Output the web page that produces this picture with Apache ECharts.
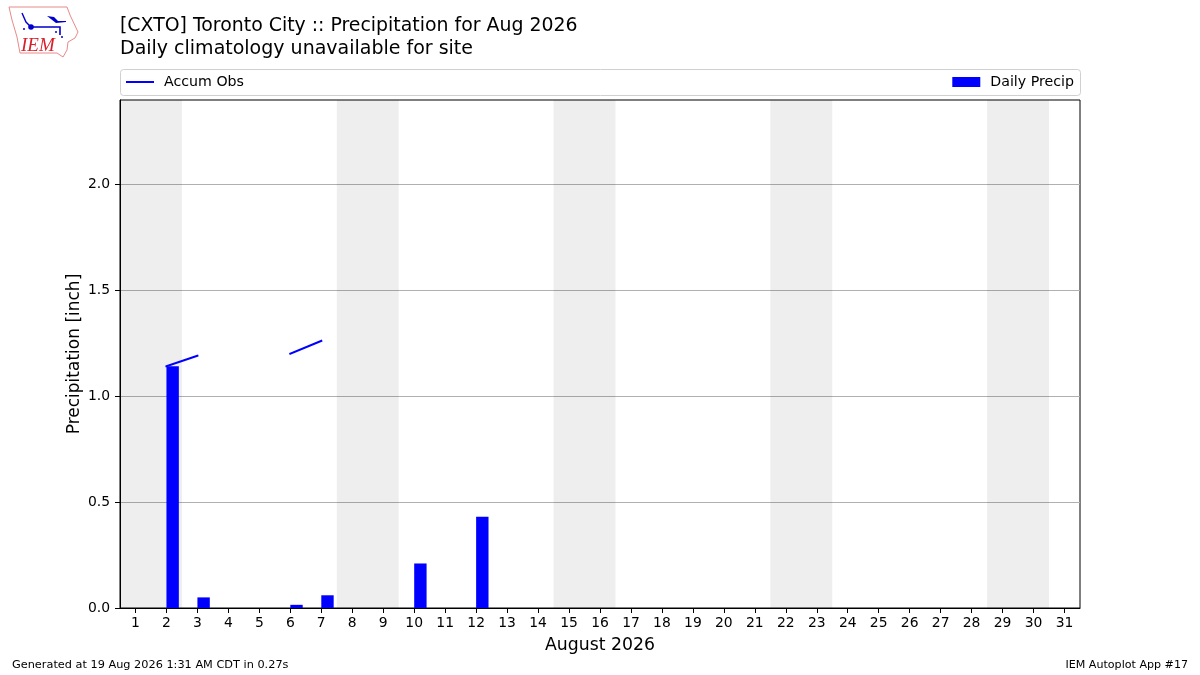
<!DOCTYPE html>
<html><head><meta charset="utf-8">
<style>html,body{margin:0;padding:0;background:#fff}#c{width:1200px;height:675px}</style>
<script src="https://cdn.jsdelivr.net/npm/echarts@6/dist/echarts.min.js"></script>
</head><body><div id="c"></div>
<script>
const days = ['1','2','3','4','5','6','7','8','9','10','11','12','13','14','15','16','17','18','19','20','21','22','23','24','25','26','27','28','29','30','31'];
const dailyPrecip = [null,1.14,0.05,null,null,0.015,0.06,null,null,0.21,null,0.43,null,null,null,null,null,null,null,null,null,null,null,null,null,null,null,null,null,null,null];
const accumObs = [null,1.14,1.19,null,null,1.20,1.26,null,null,null,null,null,null,null,null,null,null,null,null,null,null,null,null,null,null,null,null,null,null,null,null];
const weekendStarts = ['1','8','15','22','29'];
const yTicks = [0,0.5,1.0,1.5,2.0];
const F = 'DejaVu Sans';
const chart = echarts.init(document.getElementById('c'), null, {renderer:'canvas'});
chart.setOption({
  animation:false,
  backgroundColor:'#fff',
  textStyle:{fontFamily:F},
  title:[
    {text:'[CXTO] Toronto City :: Precipitation for Aug 2026',left:120,top:17,padding:0,textStyle:{fontFamily:F,fontSize:18.9,fontWeight:'normal',color:'#000'}},
    {text:'Daily climatology unavailable for site',left:120,top:40,padding:0,textStyle:{fontFamily:F,fontSize:19,fontWeight:'normal',color:'#000'}}
  ],
  legend:[
    {data:['Accum Obs'],left:126,top:75,padding:0,itemWidth:28,itemHeight:2,itemGap:0,icon:'rect',selectedMode:false,textStyle:{fontFamily:F,fontSize:14.2,color:'#000',padding:[0,0,0,5]}},
    {data:['Daily Precip'],right:126,top:75,padding:0,itemWidth:28,itemHeight:10,itemGap:0,icon:'rect',selectedMode:false,textStyle:{fontFamily:F,fontSize:14.2,color:'#000',padding:[0,0,0,5]}}
  ],
  grid:{left:120,right:120,top:100,bottom:67,show:true,borderColor:'#000',borderWidth:1,backgroundColor:'transparent',containLabel:false},
  xAxis:{type:'category',data:days,boundaryGap:true,name:'August 2026',nameLocation:'middle',nameGap:29,
    nameTextStyle:{fontFamily:F,fontSize:17.3,color:'#000'},
    axisLine:{show:true,lineStyle:{color:'#000',width:1}},
    axisTick:{show:true,alignWithLabel:true,length:5,lineStyle:{color:'#000',width:1}},
    axisLabel:{interval:0,fontFamily:F,fontSize:13.9,color:'#000',margin:8},splitLine:{show:false}},
  yAxis:{type:'value',min:0,max:2.396,interval:0.5,name:'Precipitation [inch]',nameLocation:'middle',nameGap:37,nameMoveOverlap:false,
    nameTextStyle:{fontFamily:F,fontSize:17,color:'#000'},
    axisLine:{show:true,lineStyle:{color:'#000',width:1}},
    axisTick:{show:true,length:5,lineStyle:{color:'#000',width:1},customValues:yTicks},
    axisLabel:{fontFamily:F,fontSize:13.9,color:'#000',margin:10,customValues:yTicks,formatter:v=>v.toFixed(1)},
    splitLine:{show:true,lineStyle:{color:'#b0b0b0',width:1}}},
  series:[
    {type:'custom',name:'Weekend',silent:true,z:1,clip:true,encode:{x:0},data:weekendStarts.map(d=>[d]),
      renderItem:(p,api)=>{const c=api.coord([api.value(0),0]);const b=api.size([1,0])[0];
        return {type:'rect',shape:{x:c[0]-b/2,y:p.coordSys.y,width:2*b,height:p.coordSys.height},style:{fill:'rgba(0,0,0,0.067)'}};}},
    {type:'bar',name:'offset',data:days.map(()=>null),barWidth:'40%',barGap:0,silent:true,z:2},
    {type:'bar',name:'Daily Precip',data:dailyPrecip,barWidth:'40%',barGap:0,itemStyle:{color:'#0000ff'},z:3},
    {type:'line',name:'Accum Obs',data:accumObs,showSymbol:false,symbol:'none',connectNulls:false,lineStyle:{color:'#0000ff',width:2,cap:'square'},itemStyle:{color:'#0000ff'},z:4}
  ],
  graphic:[
    {type:'rect',z:-1,silent:true,shape:{x:120.5,y:69.5,width:960,height:26,r:3},style:{fill:'#fff',stroke:'#d0d0d0',lineWidth:1}},
    {type:'text',left:12,top:660,style:{text:'Generated at 19 Aug 2026 1:31 AM CDT in 0.27s',fontFamily:F,fontSize:11.3,fill:'#000'}},
    {type:'text',right:12,top:660,style:{text:'IEM Autoplot App #17',fontFamily:F,fontSize:11.1,fill:'#000'}},
    {type:'polygon',silent:true,shape:{points:[[9,7],[67,7],[70,15],[78,32],[75,38],[68,42],[67,50],[63,57],[57,53],[20,53],[17,37],[12,20]]},style:{fill:'none',stroke:'#e88a8a',lineWidth:1}},
    {type:'polyline',silent:true,shape:{points:[[31,27],[60,27],[60,35]]},style:{fill:'none',stroke:'#0000cc',lineWidth:1.6}},
    {type:'polyline',silent:true,shape:{points:[[22,13],[26,22],[31,27]]},style:{fill:'none',stroke:'#0000cc',lineWidth:1.4}},
    {type:'polygon',silent:true,shape:{points:[[47,16],[54,17],[58,21],[66,21],[66,22],[56,23]]},style:{fill:'#0000cc'}},
    {type:'circle',silent:true,shape:{cx:31,cy:27,r:2.8},style:{fill:'#0000cc'}},
    {type:'circle',silent:true,shape:{cx:24,cy:29,r:1},style:{fill:'#0000cc'}},
    {type:'circle',silent:true,shape:{cx:56,cy:32,r:1},style:{fill:'#0000cc'}},
    {type:'circle',silent:true,shape:{cx:62,cy:37,r:1},style:{fill:'#0000cc'}},
    {type:'text',left:21,top:36,style:{text:'IEM',fontFamily:'Liberation Serif',fontStyle:'italic',fontSize:19,fill:'#d8202a'}}
  ]
});
</script></body></html>
